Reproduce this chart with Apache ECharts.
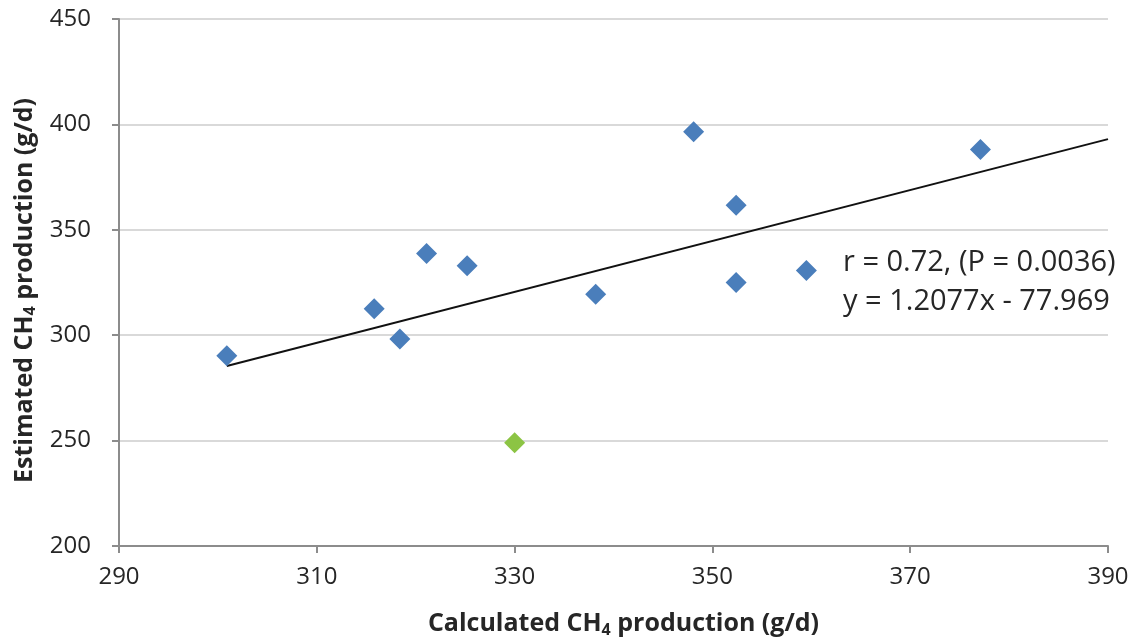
<!DOCTYPE html>
<html>
<head>
<meta charset="utf-8">
<script src="https://cdn.jsdelivr.net/npm/echarts@6/dist/echarts.min.js"></script>
<style>
html,body{margin:0;padding:0;background:#fff;}
#chart{width:1134px;height:643px;}
</style>
</head>
<body>
<div id="chart"></div>
<script>
// Data
const blueX = [300.9, 315.8, 318.4, 321.1, 325.2, 338.2, 348.1, 352.4, 352.4, 359.5, 377.1];
const blueY = [290.2, 312.6, 298.2, 338.7, 332.9, 319.4, 396.5, 361.7, 325.0, 330.7, 388.1];
const greenX = [330.0];
const greenY = [249.0];
const trendX = [300.9, 390];
const trendY = [285.4, 393.0];
const xTicks = [290, 310, 330, 350, 370, 390];
const yTicks = [200, 250, 300, 350, 400, 450];
const annotationLines = ['r = 0.72, (P = 0.0036)', 'y = 1.2077x - 77.969'];

const FONT = '"Open Sans", "DejaVu Sans", sans-serif';
const TXT = '#262626';

const zip = (a, b) => a.map((v, i) => [v, b[i]]);

const chart = echarts.init(document.getElementById('chart'));
chart.setOption({
  animation: false,
  backgroundColor: '#ffffff',
  textStyle: { fontFamily: FONT },
  grid: { left: 119, right: 26, top: 19, bottom: 92, containLabel: false },
  xAxis: {
    type: 'value',
    min: xTicks[0], max: xTicks[xTicks.length - 1], interval: 20,
    name: 'Calculated CH{sub|4} production (g/d)',
    nameLocation: 'middle',
    nameGap: 64,
    nameTextStyle: {
      fontFamily: FONT, fontSize: 25, fontWeight: 'bold', color: TXT,
      padding: [0, 0, 0, 20],
      rich: { sub: { fontFamily: FONT, fontSize: 16, fontWeight: 'bold', color: TXT, padding: [12, 0, 0, 0] } }
    },
    axisLine: { show: true, onZero: false, lineStyle: { color: '#8c8c8c', width: 2 } },
    axisTick: { show: true, length: 7, lineStyle: { color: '#8c8c8c', width: 2 } },
    axisLabel: { fontFamily: FONT, fontSize: 24, color: TXT, margin: 19 },
    splitLine: { show: false }
  },
  yAxis: {
    type: 'value',
    min: yTicks[0], max: yTicks[yTicks.length - 1], interval: 50,
    name: 'Estimated CH{sub|4} production (g/d)',
    nameLocation: 'middle',
    nameGap: 76,
    nameRotate: 90,
    nameTextStyle: {
      fontFamily: FONT, fontSize: 25, fontWeight: 'bold', color: TXT,
      padding: [0, 16, 0, 0],
      rich: { sub: { fontFamily: FONT, fontSize: 16, fontWeight: 'bold', color: TXT, padding: [12, 0, 0, 0] } }
    },
    axisLine: { show: true, onZero: false, lineStyle: { color: '#8c8c8c', width: 2 } },
    axisTick: { show: true, length: 7, lineStyle: { color: '#8c8c8c', width: 2 } },
    axisLabel: { fontFamily: FONT, fontSize: 24, color: TXT, margin: 28 },
    splitLine: { show: true, lineStyle: { color: '#d9d9d9', width: 2 } }
  },
  series: [
    {
      type: 'line',
      data: zip(trendX, trendY),
      showSymbol: false,
      symbol: 'none',
      silent: true,
      lineStyle: { color: '#111111', width: 2 },
      z: 1
    },
    {
      type: 'scatter',
      data: zip(blueX, blueY),
      symbol: 'diamond',
      symbolSize: 21,
      itemStyle: { color: '#4a7ebb', opacity: 1 },
      z: 2
    },
    {
      type: 'scatter',
      data: zip(greenX, greenY),
      symbol: 'diamond',
      symbolSize: 21,
      itemStyle: { color: '#8cc444', opacity: 1 },
      z: 2
    }
  ],
  graphic: [
    { type: 'text', left: 843, top: 248, style: { text: annotationLines[0], fontFamily: FONT, fontSize: 29, fill: TXT } },
    { type: 'text', left: 843, top: 287, style: { text: annotationLines[1], fontFamily: FONT, fontSize: 29, fill: TXT } }
  ]
});
</script>
</body>
</html>
